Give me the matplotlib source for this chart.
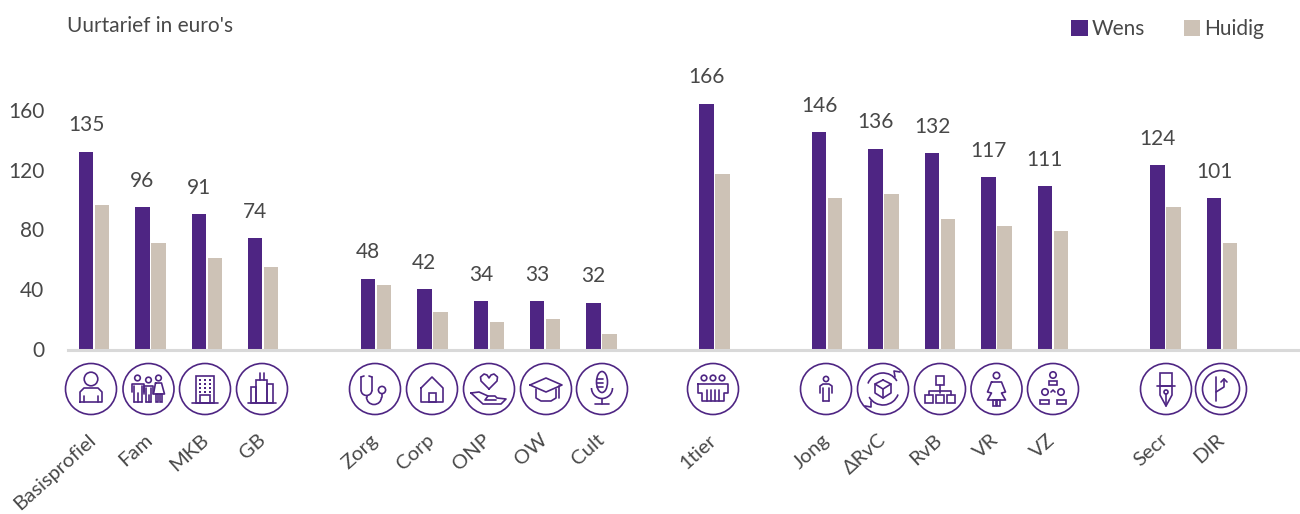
import matplotlib
matplotlib.use("Agg")
import matplotlib.pyplot as plt
from matplotlib.patches import Circle, Rectangle, Arc, Ellipse
from matplotlib.transforms import ScaledTranslation

categories = ["Basisprofiel", "Fam", "MKB", "GB", "", "Zorg", "Corp", "ONP", "OW", "Cult", "", "1tier", "",
              "Jong", "\u0394RvC", "RvB", "VR", "VZ", "", "Secr", "DIR"]
wens = [134, 97, 92, 76, None, 49, 42, 34, 34, 33, None, 166, None, 147, 136, 133, 117, 111, None, 125, 103]
huidig = [98, 73, 63, 57, None, 45, 27, 20, 22, 12, None, 119, None, 103, 106, 89, 84, 81, None, 97, 73]
wens_labels = ["135", "96", "91", "74", "", "48", "42", "34", "33", "32", "", "166", "",
               "146", "136", "132", "117", "111", "", "124", "101"]
y_ticks = [0, 40, 80, 120, 160]
legend_names = ["Wens", "Huidig"]
y_title = "Uurtarief in euro's"

PURPLE = "#4E2583"
BEIGE = "#CDC2B6"
TEXT = "#484848"
AXIS = "#D9D9D9"
plt.rcParams["font.family"] = ["Lato", "DejaVu Sans"]
FS = 15

W, H = 1300, 514
fig = plt.figure(figsize=(W / 100, H / 100), dpi=100)
ax = fig.add_axes([68 / W, (H - 352) / H, (W - 68) / W, 352 / H])
step = 56.4
ax.set_xlim((68 - 94) / step, (1300 - 94) / step)
ax.set_ylim(0, 352 / 1.495)
idx = [i for i, c in enumerate(categories) if c]
bw = 14.5 / step
off = 8 / step
b1 = ax.bar([i - off for i in idx], [wens[i] for i in idx], bw, color=PURPLE, label=legend_names[0])
b2 = ax.bar([i + off for i in idx], [huidig[i] for i in idx], bw, color=BEIGE, label=legend_names[1])
ax.axhline(1.4, color=AXIS, lw=2.2, zorder=5, clip_on=False)
for i in idx:
    ax.annotate(wens_labels[i], (i - off, wens[i]), xytext=(0, 19), textcoords="offset points",
                ha="center", va="center", fontsize=FS, color=TEXT)
for s in ax.spines.values():
    s.set_visible(False)
ax.patch.set_alpha(0)
ax.set_yticks(y_ticks)
ax.set_yticklabels([str(v) for v in y_ticks], fontsize=FS, color=TEXT)
ax.tick_params(axis="y", length=0, pad=17)
for t in ax.get_yticklabels():
    t.set_transform(t.get_transform() + ScaledTranslation(0, 3 / 100, fig.dpi_scale_trans))
ax.set_xticks(idx)
ax.set_xticklabels([categories[i] for i in idx], rotation=42, ha="right", rotation_mode="anchor",
                   fontsize=14.6, color=TEXT)
ax.tick_params(axis="x", length=0, pad=57)
for t in ax.get_xticklabels():
    t.set_transform(t.get_transform() + ScaledTranslation(-6 / 100, 0, fig.dpi_scale_trans))

fig.text(67 / W, 1 - 26 / H, y_title, fontsize=FS, color=TEXT, ha="left", va="center")
fig.legend(handles=[b1, b2], labels=legend_names, loc="upper right", bbox_to_anchor=(1264 / W, 1 - 19 / H),
           ncols=2, frameon=False, fontsize=FS, labelcolor=TEXT, handlelength=0.78, handleheight=0.78,
           handletextpad=0.2, columnspacing=1.85, borderpad=0, borderaxespad=0)

# decorative icons in pixel coordinates
ov = fig.add_axes([0, 0, 1, 1])
ov.set_xlim(0, W)
ov.set_ylim(H, 0)
ov.axis("off")
ov.patch.set_alpha(0)
LW = 1.2
kw = dict(color=PURPLE, lw=LW, solid_capstyle="round", solid_joinstyle="round")
def L(cx, cy, pts):
    ov.plot([cx + p[0] for p in pts], [cy + p[1] for p in pts], **kw)
def C(cx, cy, r):
    ov.add_patch(Circle((cx, cy), r, fc="none", ec=PURPLE, lw=LW))
def R(cx, cy, x0, y0, w, h):
    ov.add_patch(Rectangle((cx + x0, cy + y0), w, h, fc="none", ec=PURPLE, lw=LW))
def A(cx, cy, w, h, t1, t2):
    ov.add_patch(Arc((cx, cy), w, h, theta1=t1, theta2=t2, ec=PURPLE, lw=LW))

def person(x, y):
    C(x, y - 10, 6.8)
    L(x, y, [(-11, 13), (-11, 3), (-7, -1), (7, -1), (11, 3), (11, 13), (-11, 13)])
    L(x, y, [(-7, 13), (-7, 7)]); L(x, y, [(7, 13), (7, 7)])
def fig_man(x, y, top, bottom, half):
    C(x, y + top, 2.8)
    L(x, y, [(-half, top + 14), (-half, top + 6), (half, top + 6), (half, top + 14)])
    L(x, y, [(-half + 2, bottom), (-half + 2, top + 8)]); L(x, y, [(half - 2, bottom), (half - 2, top + 8)])
    L(x, y, [(0, bottom), (0, top + 15)]); L(x, y, [(-half + 2, bottom), (half - 2, bottom)])
def family(x, y):
    fig_man(x - 11, y, -11, 13, 6)
    fig_man(x, y, -9, 13, 4.5)
    C(x + 10, y - 11, 2.8)
    L(x, y, [(7, -6), (13, -6), (16, 5), (5, 5), (7, -6)])
    R(x, y, 7, 5, 2.5, 8); R(x, y, 11, 5, 2.5, 8)
def office(x, y):
    R(x, y, -9, -13, 18, 27)
    L(x, y, [(-13, 14), (13, 14)])
    R(x, y, -5, 6, 10, 8)
    for dx in (-5, 0, 5):
        for dy in (-9, -5, -1, 3):
            ov.add_patch(Rectangle((x + dx - .9, y + dy - .9), 1.8, 1.8, fc=PURPLE, ec="none"))
def towers(x, y):
    R(x, y, -6, -9, 11, 23); R(x, y, -11, -2, 5, 16); R(x, y, 5, -5, 6, 19)
    L(x, y, [(-14, 14), (14, 14)]); L(x, y, [(-2, -9), (-2, -16)]); L(x, y, [(2, -9), (2, -16)])
def stetho(x, y):
    L(x, y, [(-14, -12), (-14, 1)]); L(x, y, [(-3, -12), (-3, 1)])
    L(x, y, [(-14, -12), (-11, -13)]); L(x, y, [(-3, -12), (-6, -13)])
    A(x - 8.5, y + 1, 11, 11, 0, 180)
    L(x, y, [(-8.5, 6.5), (-8.5, 8)])
    A(x - 1, y + 8, 15, 15, 0, 180)
    L(x, y, [(6.5, 8), (6.5, 5)]); C(x + 7, y + 1, 3.6)
def house(x, y):
    L(x, y, [(-11, -1), (0, -12), (11, -1), (11, 13), (-11, 13), (-11, -1)])
    R(x, y, -3.5, 4, 7, 9)
def heart(x, y):
    L(x, y, [(0, 0), (-8, -8), (-8.5, -12), (-5, -15), (-2, -14), (0, -11), (2, -14), (5, -15), (8.5, -12), (8, -8), (0, 0)])
    L(x, y, [(-18, 4), (-10, 3), (-1, 7), (6, 7), (8, 9), (17, 10), (12, 15), (-6, 15), (-18, 4)])
    L(x, y, [(-1, 7), (-4, 11), (7, 11)])
def cap(x, y):
    L(x, y, [(-16, -4), (0, -11), (16, -4), (0, 3), (-16, -4)])
    L(x, y, [(-10, 0), (-10, 9), (-5, 12), (5, 12), (10, 9), (10, 0)])
    L(x, y, [(13, -3), (13, 9)])
def mic(x, y):
    ov.add_patch(Ellipse((x, y - 7), 11, 21, fc="none", ec=PURPLE, lw=LW))
    for dy in (-10, -6, -2):
        L(x, y, [(-5, dy), (1, dy)])
    A(x, y - 1, 21, 21, 0, 180)
    L(x, y, [(0, 10), (0, 15)]); L(x, y, [(-7, 15), (7, 15)])
def meeting(x, y):
    for dx in (-9, 0, 9):
        C(x + dx, y - 11, 2.8)
    L(x, y, [(-15, -5), (15, -5), (15, 4), (11, 4), (11, 12), (-11, 12), (-11, 4), (-15, 4), (-15, -5)])
    for dx in (-6, -2, 2, 6):
        L(x, y, [(dx, 1), (dx, 12)])
def small_person(x, y):
    C(x, y - 10, 2.6)
    L(x, y, [(-6, 4), (-6, -3), (-3, -5), (3, -5), (6, -3), (6, 4)])
    L(x, y, [(-3, 12), (-3, -1)]); L(x, y, [(3, 12), (3, -1)]); L(x, y, [(-3, 12), (3, 12)])
def rvc(x, y):
    A(x, y, 32, 32, 20, 150); A(x, y, 32, 32, 200, 330)
    L(x, y, [(0, -9), (8, -5), (8, 4), (0, 9), (-8, 4), (-8, -5), (0, -9)])
    L(x, y, [(-8, -5), (0, 0), (8, -5)]); L(x, y, [(0, 0), (0, 9)])
    L(x, y, [(12, -12), (11, -18), (17, -17)]); L(x, y, [(-12, 12), (-12, 18), (-18, 17)])
def org(x, y):
    R(x, y, -4, -13, 8, 9)
    L(x, y, [(0, -4), (0, 4)]); L(x, y, [(-11, 6), (-11, 2), (11, 2), (11, 6)])
    for dx in (-15, -4, 7):
        R(x, y, dx, 6, 8, 8)
def woman(x, y):
    C(x, y - 13.5, 3.2)
    L(x, y, [(-5, -7), (5, -7), (9, 3), (5, 4), (9, 11), (-9, 11), (-5, 4), (-9, 3), (-5, -7)])
    R(x, y, -3.5, 11, 3, 6); R(x, y, .5, 11, 3, 6)
def chair(x, y):
    C(x, y - 14, 3.2); R(x, y, -4, -8, 8, 4)
    C(x - 8, y + 3, 3.2); C(x + 8, y + 3, 3.2)
    L(x, y, [(-2, 3), (0, 1), (2, 3)])
    R(x, y, -13, 11, 9, 4); R(x, y, 4, 11, 9, 4)
def pen(x, y):
    R(x, y, -6, -16, 12, 13)
    L(x, y, [(-9, -3), (9, -3)])
    L(x, y, [(-6, -3), (-6, 6), (0, 17), (6, 6), (6, -3)])
    C(x, y + 3, 2); L(x, y, [(0, 5), (0, 17)])
def route(x, y):
    C(x, y, 18.5)
    L(x, y, [(-5, 12), (-5, -12)])
    L(x, y, [(-5, 3), (3, -2), (3, -10)]); L(x, y, [(0, -7), (3, -10), (6, -7)])

icon_x = [91, 148.5, 205, 262, 375, 432, 489, 546, 602, 713, 826, 883, 940, 996.5, 1053, 1166, 1221]
icon_fn = [person, family, office, towers, stetho, house, heart, cap, mic, meeting,
           small_person, rvc, org, woman, chair, pen, route]
for x, fn in zip(icon_x, icon_fn):
    C(x, 389, 25.5)
    fn(x, 389)

fig.savefig("out.png", dpi=100, facecolor="white")
